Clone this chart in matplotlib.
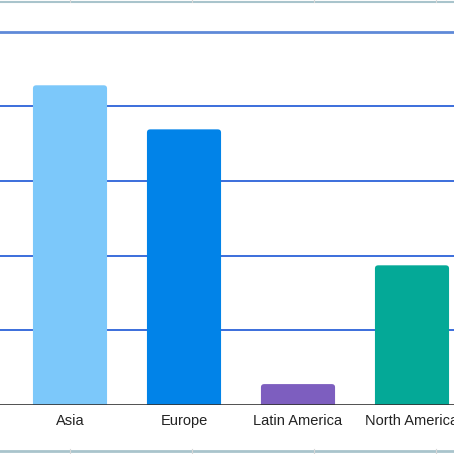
import matplotlib
matplotlib.use("Agg")
import matplotlib.pyplot as plt
from matplotlib.patches import FancyBboxPatch

regions = ["Asia", "Europe", "Latin America", "North America"]
values = [4.28, 3.69, 0.28, 1.87]
colors = ["#7cc8fa", "#0183e8", "#7d5ebf", "#04a997"]
grid_levels = [1, 2, 3, 4, 5]

plt.rcParams['font.family'] = ['Liberation Sans', 'DejaVu Sans']

fig = plt.figure(figsize=(4.54, 4.54), dpi=100)
fig.patch.set_facecolor("white")

# axes: baseline at y=405px, top at 0px
ax = fig.add_axes([0, 49 / 454, 1, 405 / 454])
ax.set_xlim(-70 / 114, (454 - 70) / 114)
ax.set_ylim(0, 405 / 74.7)

for lvl in grid_levels:
    if lvl == grid_levels[-1]:
        ax.axhline(lvl, color="#5f8ad8", lw=2.0, zorder=1)
    else:
        ax.axhline(lvl, color="#1a55d6", lw=1.2, zorder=1)

bars = ax.bar(range(len(regions)), values, width=0.65, color=colors, zorder=2)
# rounded top corners look
for b, c in zip(bars, colors):
    b.set_visible(False)
    x, w, h = b.get_x(), b.get_width(), b.get_height()
    p = FancyBboxPatch((x, -0.1), w, h + 0.1,
                       boxstyle="round,pad=0,rounding_size=0.03",
                       mutation_aspect=1.4, fc=c, ec="none", zorder=2)
    ax.add_patch(p)

ax.axhline(0, color="#333333", lw=1.2, zorder=3)

ax.set_xticks(range(len(regions)))
ax.set_xticklabels(regions, fontsize=10.5, color="#222222")
ax.tick_params(axis="x", length=0, pad=6.5)
ax.set_yticks([])
for s in ax.spines.values():
    s.set_visible(False)

# spreadsheet cell borders around the crop
fig.add_artist(plt.Line2D([0, 1], [1 - 2 / 454] * 2, color="#a9c4cc", lw=1.5))
fig.add_artist(plt.Line2D([0, 1], [1 - 451 / 454] * 2, color="#a9c4cc", lw=2))
for xp in [70, 192, 314, 436]:
    fig.add_artist(plt.Line2D([xp / 454] * 2, [1 - 449 / 454, 0], color="#d8d8d8", lw=0.8))
    fig.add_artist(plt.Line2D([xp / 454] * 2, [1, 1 - 1.5 / 454], color="#d8d8d8", lw=0.8))

fig.savefig("out.png", dpi=100)
